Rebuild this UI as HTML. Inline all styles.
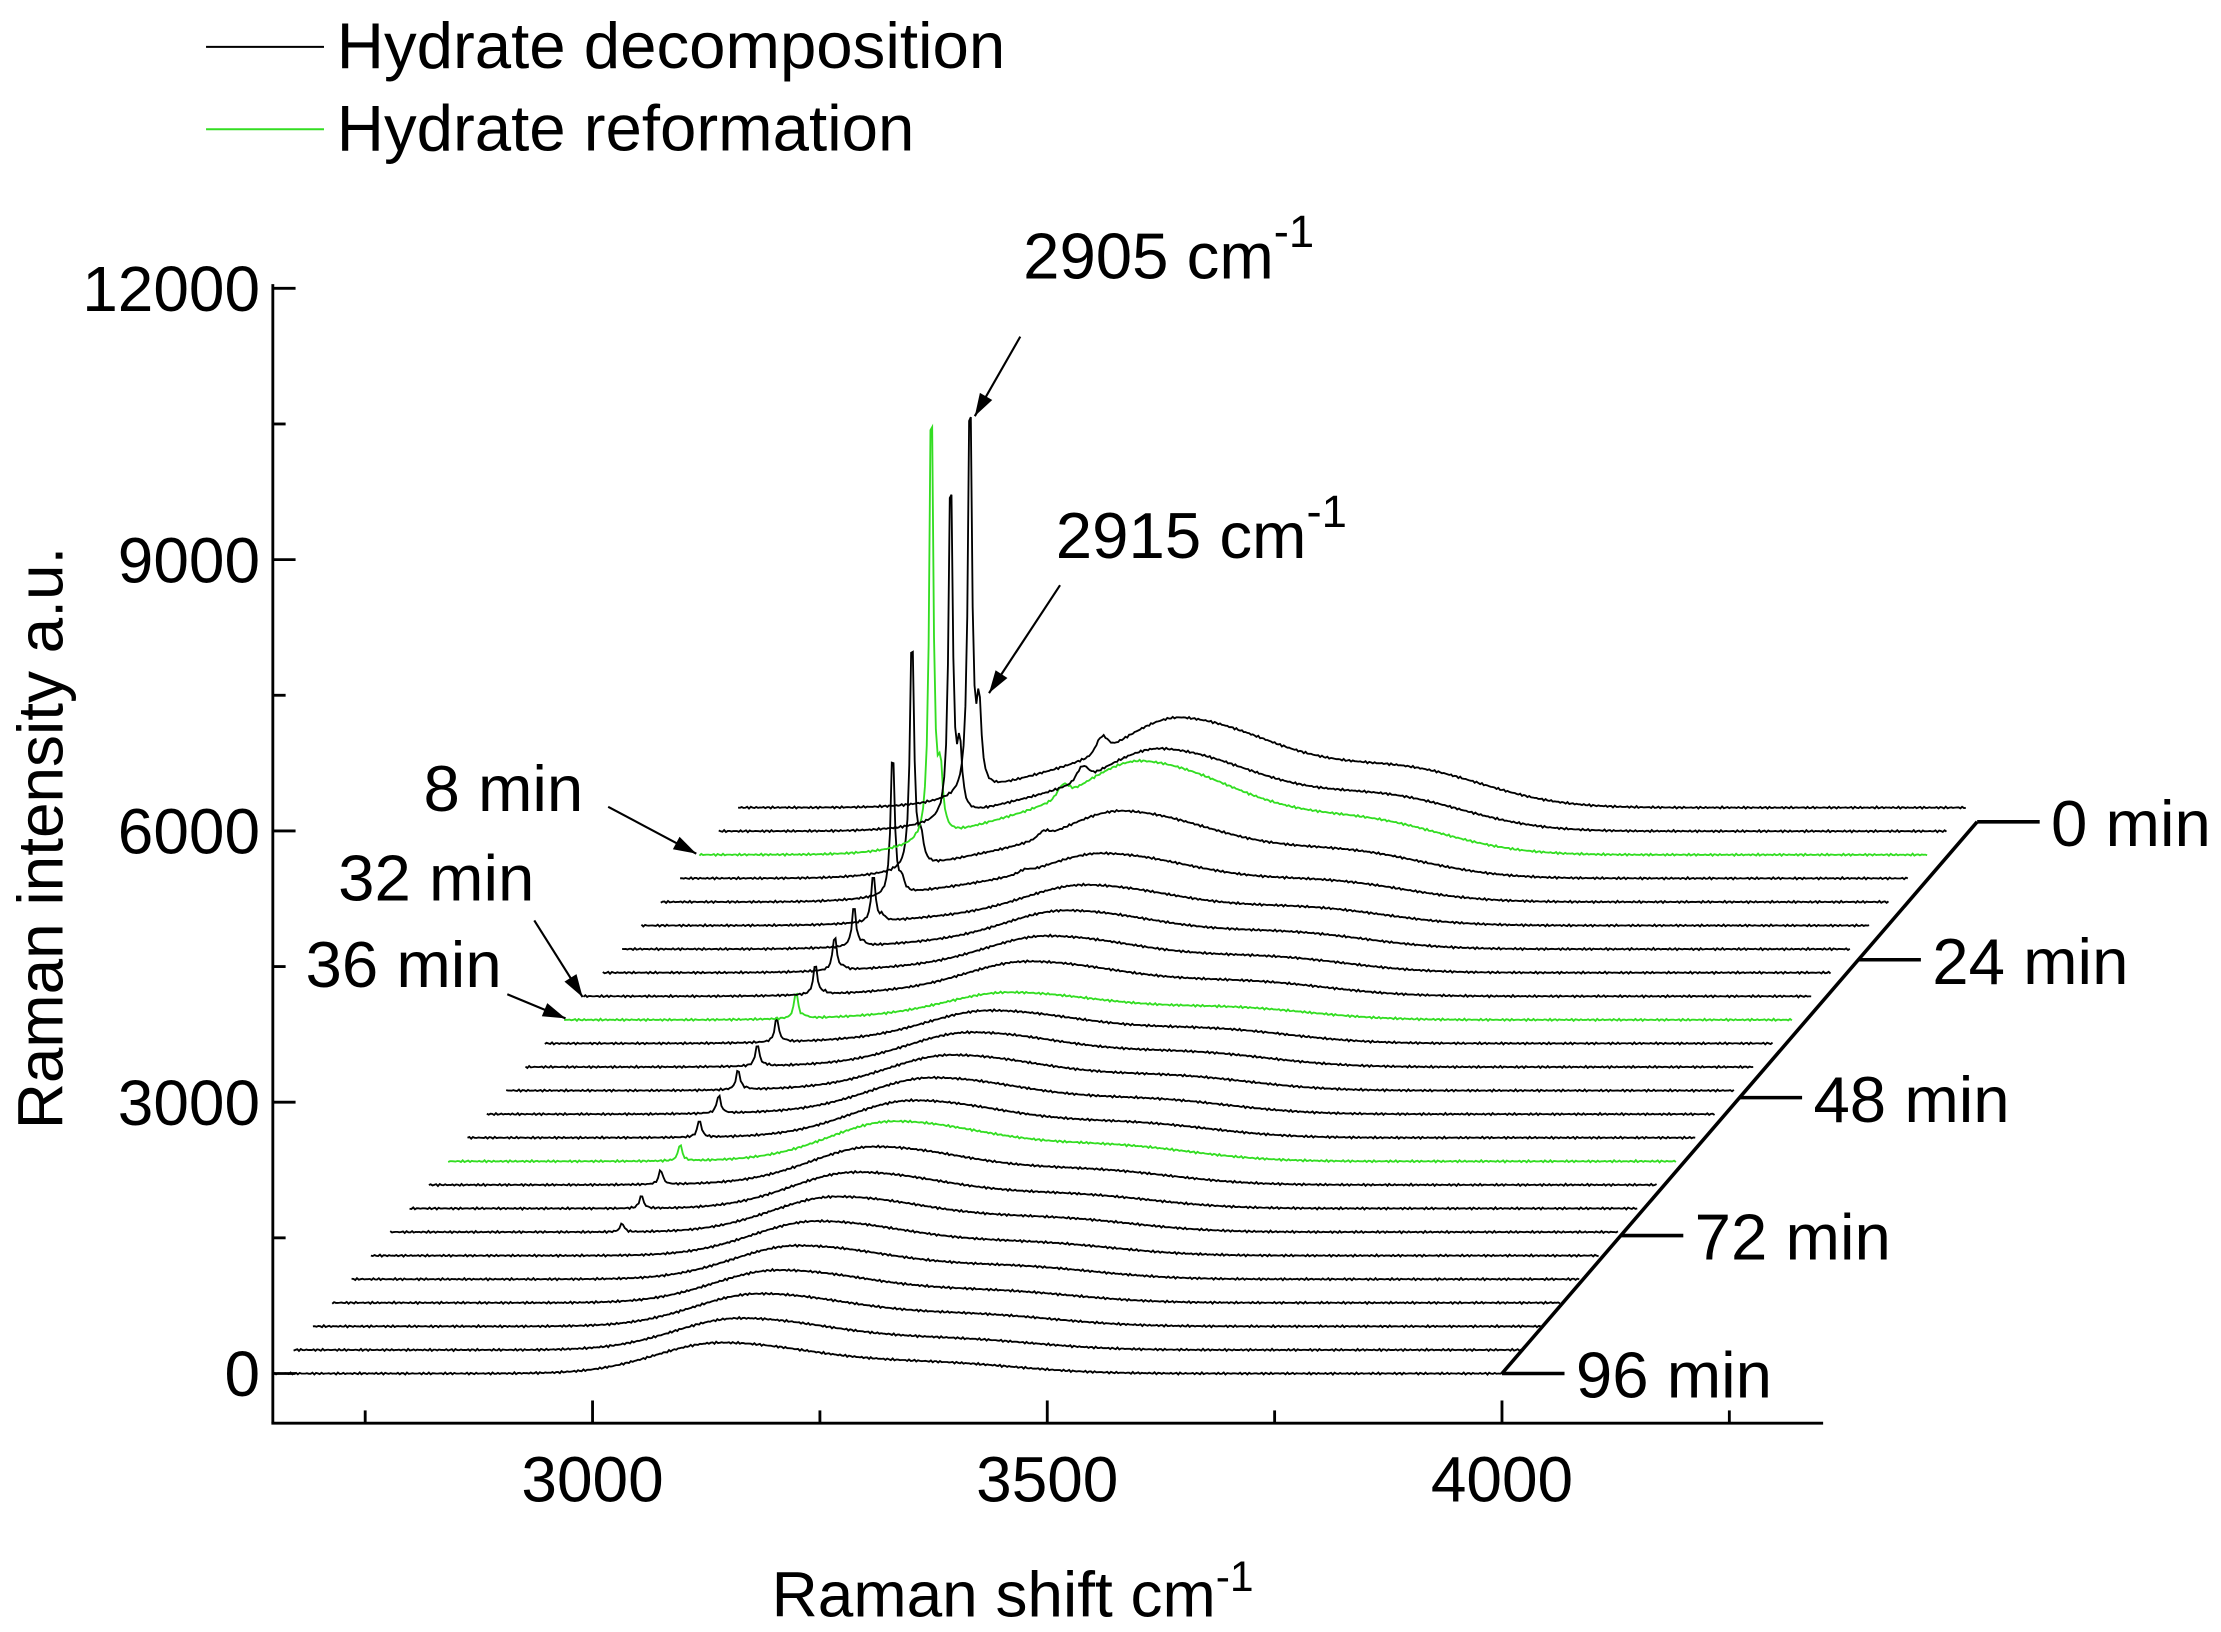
<!DOCTYPE html>
<html><head><meta charset="utf-8"><style>
html,body{margin:0;padding:0;background:#fff}
svg{display:block}
text{font-family:"Liberation Sans",Arial,sans-serif;fill:#000}
</style></head><body>
<svg id="chart" width="2221" height="1632" viewBox="0 0 1563 1149" preserveAspectRatio="none" xmlns="http://www.w3.org/2000/svg">
<g>
<line x1="145" y1="33" x2="228" y2="33" stroke="#000" stroke-width="1.4"/>
<text x="237" y="48" font-size="46">Hydrate decomposition</text>
<line x1="145" y1="91" x2="228" y2="91" stroke="#33dd22" stroke-width="1.4"/>
<text x="237" y="106" font-size="46">Hydrate reformation</text>
</g>
<g id="axes"></g>
<g id="traces"></g>
<g id="annot"></g>
</svg>
<script>
const times = [0,4,8,12,16,20,24,28,32,36,40,44,48,52,56,60,64,68,72,76,80,84,88,92,96];
const greenTimes = [8,36,60];
// sharp methane peak at 2905 cm-1 (intensity units)
const peakHeights = [4720,4070,5220,2750,1680,560,470,400,350,310,280,250,230,210,200,190,170,150,100,0,0,0,0,0,0];
// 2915 cm-1 shoulder
const shoulder2915 = [900,700,650,300,150,60,40,30,20,20,10,10,10,0,0,0,0,0,0,0,0,0,0,0,0];
// broad OH band ~3140 cm-1
const bandHeights = [960,880,1000,720,520,440,420,400,380,300,360,380,390,400,410,440,420,400,390,380,370,360,360,350,340];
// OH shoulder ~3390 cm-1
const band2Heights = [380,340,330,260,200,170,160,150,140,120,140,140,140,140,140,150,140,130,130,120,120,110,110,100,100];
// elevated background near peak
const bgHeights = [300,280,320,220,150,80,60,50,40,30,30,20,20,20,10,10,10,0,0,0,0,0,0,0,0];
// small peak ~3050
const smallPeak = [160,140,120,60,30,0,0,0,0,0,0,0,0,0,0,0,0,0,0,0,0,0,0,0,0];
const yTicks = [0,3000,6000,9000,12000];
const xTicks = [3000,3500,4000];

const NS="http://www.w3.org/2000/svg";
function xScale(w){return 417+(w-3000)*0.64;}
function yScale(v){return 967-v*(191/3000);}
const DX=13.6, DY=16.6;
function mk(tag,attrs,parent){const e=document.createElementNS(NS,tag);for(const k in attrs)e.setAttribute(k,attrs[k]);parent.appendChild(e);return e;}

const axes=document.getElementById('axes');
let a=mk('line',{x1:192,y1:200,x2:192,y2:1002,stroke:'#000','stroke-width':2},axes);


a=mk('line',{x1:191,y1:1002,x2:1283,y2:1002,stroke:'#000','stroke-width':2},axes);


yTicks.forEach((v,i)=>{
  const y=yScale(v);
  let t=mk('line',{x1:192,y1:y,x2:208,y2:y,stroke:'#000','stroke-width':2},axes);
  
  
  let l=mk('text',{x:183,y:y+16,'font-size':45,'text-anchor':'end'},axes);
  l.textContent=v;
  
  
  if(i<yTicks.length-1){
    const ym=yScale(v+1500);
    let m=mk('line',{x1:192,y1:ym,x2:201,y2:ym,stroke:'#000','stroke-width':2},axes);
    
    
  }
});
xTicks.forEach(v=>{
  const x=xScale(v);
  let t=mk('line',{x1:x,y1:1002,x2:x,y2:986,stroke:'#000','stroke-width':2},axes);
  
  
  let l=mk('text',{x:x,y:1057,'font-size':45,'text-anchor':'middle'},axes);
  l.textContent=v;
  
  
});
[2750,3250,3750,4250].forEach(v=>{
  const x=xScale(v);
  let m=mk('line',{x1:x,y1:1002,x2:x,y2:993,stroke:'#000','stroke-width':2},axes);
  
  
});
let yt=mk('text',{x:0,y:0,'font-size':45,'text-anchor':'middle',transform:'translate(44,590) rotate(-90)'},axes);
yt.textContent='Raman intensity a.u.';


let xt=mk('text',{x:543,y:1138,'font-size':45},axes);
xt.innerHTML='Raman shift cm<tspan dy="-18" font-size="30">-1</tspan>';



// traces
const tr=document.getElementById('traces');
function g(x,c,s){return Math.exp(-0.5*((x-c)/s)*((x-c)/s));}
function lor(x,c,w){return w*w/((x-c)*(x-c)+w*w);}
for(let i=times.length-1;i>=0;i--){
  const ox=(times.length-1-i)*DX, oy=-(times.length-1-i)*DY;
  let d='';
  for(let w=2650;w<=4000;w+=2){
    let v=peakHeights[i]*lor(w,2905,2.5)+shoulder2915[i]*lor(w,2915,3)
      +bgHeights[i]*g(w,2990,70)+smallPeak[i]*g(w,3050,6)
      +bandHeights[i]*(w<3140?g(w,3140,70):g(w,3140,110))
      +band2Heights[i]*g(w,3390,85)
      +12*Math.sin(w*1.7+i)*Math.sin(w*0.37+i*2);
    const x=xScale(w)+ox;
    d+=(d?'L':'M')+x.toFixed(1)+','+(yScale(v)+oy).toFixed(1);
  }
  const green=greenTimes.includes(times[i]);
  const p=mk('path',{d:d,fill:'none',stroke:green?'#33dd22':'#000','stroke-width':1.3},tr);
  
  
}
// time axis
const an=document.getElementById('annot');
const lastX=xScale(4000);
let ta=mk('line',{x1:lastX,y1:967,x2:lastX+(times.length-1)*DX+8,y2:967-(times.length-1)*DY+10,stroke:'#000','stroke-width':2.5},an);


[0,24,48,72,96].forEach(t=>{
  const k=times.length-1-times.indexOf(t);
  const x=lastX+k*(DX+8/24), y=967-k*DY+k*10/24;
  let l=mk('line',{x1:x,y1:y,x2:x+44,y2:y,stroke:'#000','stroke-width':2.5},an);
  
  
  let tx=mk('text',{x:x+52,y:y+17,'font-size':46},an);
  tx.textContent=t+' min';
  
  
});
function arrow(x1,y1,x2,y2,name){
  let l=mk('line',{x1:x1,y1:y1,x2:x2,y2:y2,stroke:'#000','stroke-width':1.5},an);
  
  
  const ang=Math.atan2(y2-y1,x2-x1),L=16,W=5;
  const bx=x2-L*Math.cos(ang),by=y2-L*Math.sin(ang);
  const pts=[x2,y2,bx+W*Math.sin(ang),by-W*Math.cos(ang),bx-W*Math.sin(ang),by+W*Math.cos(ang)].join(',');
  let h=mk('polygon',{points:pts,fill:'#000'},an);
  
  
}
function label(x,y,html,name){
  let t=mk('text',{x:x,y:y,'font-size':46},an);
  t.innerHTML=html;
  
  
}
label(720,196,'2905 cm<tspan dy="-22" font-size="32">-1</tspan>','label-2905');
arrow(718,237,686,293,'arrow-2905');
label(743,393,'2915 cm<tspan dy="-22" font-size="32">-1</tspan>','label-2915');
arrow(746,412,696,488,'arrow-2915');
label(298,571,'8 min','label-8-min');
arrow(428,568,490,601,'arrow-8-min');
label(238,634,'32 min','label-32-min');
arrow(376,648,410,702,'arrow-32-min');
label(215,695,'36 min','label-36-min');
arrow(357,700,398,717,'arrow-36-min');
</script>
</body></html>
